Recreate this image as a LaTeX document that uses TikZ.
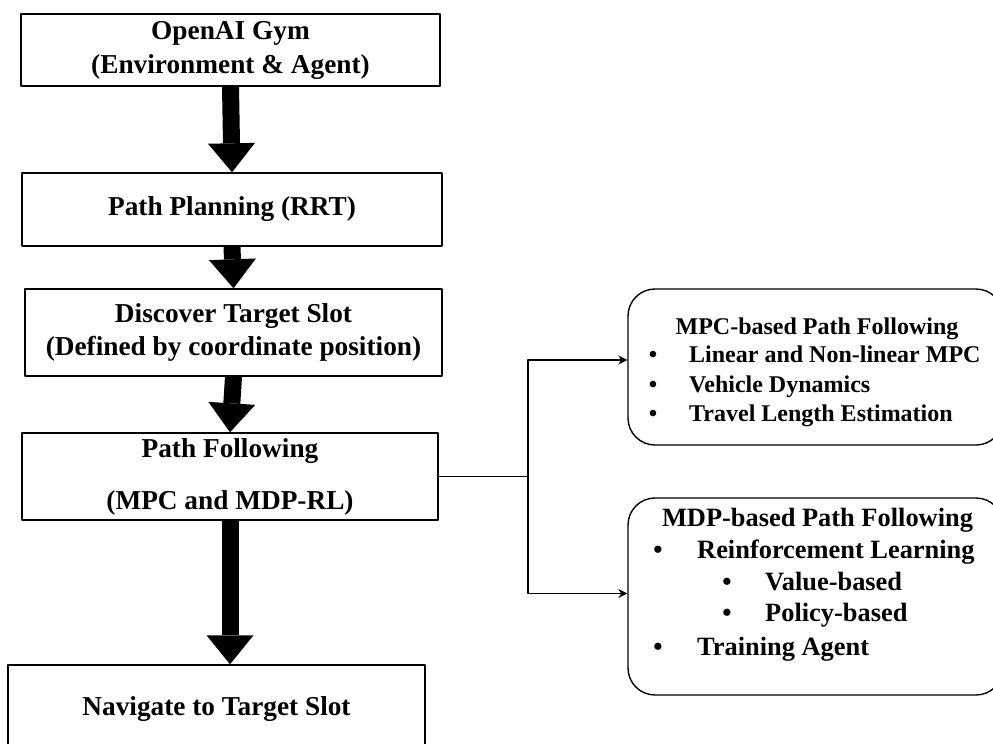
\documentclass[tikz,border=0pt]{standalone}
\usepackage{fontspec}
\setmainfont{Liberation Serif}
\usetikzlibrary{arrows.meta}

\begin{document}
\begin{tikzpicture}[line cap=round,line join=round,x=1pt,y=-1pt,
  box/.style={draw,line width=1.4pt,fill=white,inner sep=0pt,align=center,font=\fontsize{27.3}{34}\selectfont\bfseries},
  rbox/.style={draw,line width=1.4pt,rounded corners=27pt,inner sep=0pt},
  mpcfont/.style={inner sep=0pt,anchor=base west,font=\fontsize{24}{29}\selectfont\bfseries},
  mdpfont/.style={inner sep=0pt,anchor=base west,font=\fontsize{26.4}{32}\selectfont\bfseries},
  dot/.style={anchor=base},
  fat/.style={line cap=butt,line width=17pt,-{Triangle[width=47pt,length=29pt,line width=0pt]}},
  thin/.style={line width=1.3pt,-{Stealth[length=9pt,width=9pt]}}]
\clip (0,0) rectangle (993,744);
% main column
\node[box,minimum width=419pt,minimum height=72pt] (gym) at (230.5,50) {OpenAI Gym\\(Environment \& Agent)};
\node[box,minimum width=420pt,minimum height=73pt] (plan) at (232,209.5) {Path Planning (RRT)};
\node[box,minimum width=417pt,minimum height=87pt] (slot) at (233.5,332.5) {Discover Target Slot\\[-1pt](Defined by coordinate position)};
\node[box,minimum width=416pt,minimum height=87pt] (follow) at (230,476.5) {Path Following\\[18pt](MPC and MDP-RL)};
\node[box,minimum width=417pt,minimum height=88pt] (nav) at (216.5,709) {Navigate to Target Slot};
\draw[fat] (gym.south) -- (plan.north);
\draw[fat] (plan.south) -- (slot.north);
\draw[fat] (slot.south) -- (follow.north);
\draw[fat] (follow.south) -- (follow.south |- nav.north);
% right boxes
\node[rbox,minimum width=375pt,minimum height=156pt] (mpc) at (815.5,367) {};
\node[rbox,minimum width=375pt,minimum height=197pt] (mdp) at (815.5,596.5) {};
\node[mpcfont,anchor=base] (mpctitle) at (817,334) {MPC-based Path Following};
\node[mpcfont,dot] (mpcdot1) at (653,362) {\textbullet};
\node[mpcfont] (mpcitem1) at (689,362) {Linear and Non-linear MPC};
\node[mpcfont,dot] (mpcdot2) at (653,392) {\textbullet};
\node[mpcfont] (mpcitem2) at (689,392) {Vehicle Dynamics};
\node[mpcfont,dot] (mpcdot3) at (653,421.5) {\textbullet};
\node[mpcfont] (mpcitem3) at (689,421.5) {Travel Length Estimation};
\node[mdpfont,anchor=base] (mdptitle) at (817.5,526.5) {MDP-based Path Following};
\node[mdpfont,dot] (mdpdot1) at (658,558) {\textbullet};
\node[mdpfont] (mdpitem1) at (697,558) {Reinforcement Learning};
\node[mdpfont,dot] (mdpdot2) at (727,590) {\textbullet};
\node[mdpfont] (mdpitem2) at (765,590) {Value-based};
\node[mdpfont,dot] (mdpdot3) at (727,621.5) {\textbullet};
\node[mdpfont] (mdpitem3) at (765,621.5) {Policy-based};
\node[mdpfont,dot] (mdpdot4) at (658,655) {\textbullet};
\node[mdpfont] (mdpitem4) at (697,655) {Training Agent};
% connectors
\coordinate (split) at (528,476.5);
\draw[line width=1.3pt] (follow.east) -- (split);
\draw[thin] (split) |- ([yshift=7pt]mpc.west);
\draw[thin] (split) |- ([yshift=3pt]mdp.west);
\end{tikzpicture}
\end{document}
